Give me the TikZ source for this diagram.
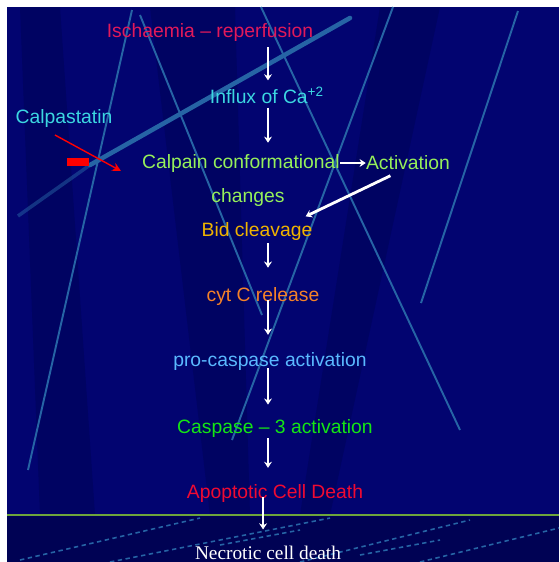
\documentclass[tikz,border=0pt]{standalone}
\usepackage{fontspec}
\setmainfont{Liberation Sans}
\newfontfamily\necfont{Liberation Serif}
\usetikzlibrary{arrows.meta}

\definecolor{bgblue}{RGB}{2,4,112}
\definecolor{lowblue}{RGB}{0,2,84}
\definecolor{shadeblue}{RGB}{0,3,98}
\definecolor{streakblue}{RGB}{38,100,165}
\definecolor{floorline}{RGB}{110,165,60}
\definecolor{ischcol}{RGB}{225,25,90}
\definecolor{cacol}{RGB}{60,215,225}
\definecolor{calpcol}{RGB}{150,240,90}
\definecolor{bidcol}{RGB}{240,180,0}
\definecolor{cytcol}{RGB}{245,130,40}
\definecolor{procol}{RGB}{90,185,255}
\definecolor{caspcol}{RGB}{20,230,20}
\definecolor{apopcol}{RGB}{240,10,50}

\begin{document}
\begin{tikzpicture}[x=0.02cm,y=-0.02cm,
  lbl/.style={inner sep=0pt,font=\fontsize{11}{13}\selectfont},
  flow/.style={white,line width=1.6pt,-{Stealth[length=3.5pt,width=4.5pt]}},
  streak/.style={streakblue,line width=1.1pt},
  floor/.style={streakblue,line width=.9pt,dash pattern=on 2.5pt off 2pt}]
\useasboundingbox (0,0) rectangle (559,562);
\clip (0,0) rectangle (559,562);
\fill[white] (0,0) rectangle (559,562);
\fill[bgblue] (7,7) rectangle (559,562);
\fill[shadeblue] (150,7) -- (235,7) -- (250,515) -- (210,515) -- cycle;
\fill[shadeblue] (380,7) -- (440,7) -- (330,515) -- (300,515) -- cycle;
\fill[shadeblue] (20,7) -- (60,7) -- (95,515) -- (40,515) -- cycle;

% background streaks
\draw[streak] (140,15) -- (262,315);
\draw[streak] (261,7) -- (460,430);
\draw[streak] (393,7) -- (232,440);
\draw[streak] (518,11) -- (421,303);
\draw[streak] (132,10) -- (28,470);
\draw[streakblue,line width=2.6pt,line cap=round] (350,18) -- (90,165);
\draw[streakblue,line width=2pt,opacity=.5] (90,165) -- (18,216);

\fill[lowblue] (7,515) rectangle (559,562);
\draw[floor] (20,560) -- (200,518);
\draw[floor] (110,562) -- (330,518);
\draw[floor] (300,562) -- (470,520);
\draw[floor] (420,562) -- (559,528);
\draw[floor] (220,545) -- (300,530);
\draw[floor] (360,555) -- (440,540);
\draw[floorline,line width=1.3pt] (7,515) -- (559,515);

\coordinate (axis) at (268,0);
\node[lbl,text=ischcol] (isch) at (210,32) {Ischaemia -- reperfusion};
\node[lbl,text=cacol] (influx) at (267,95) {Influx of Ca\textsuperscript{+2}};
\node[lbl,text=cacol] (calpast) at (64,118) {Calpastatin};
\node[lbl,text=calpcol] (calpain) at (241,163) {Calpain conformational};
\node[lbl,text=calpcol] (changes) at (248,197) {changes};
\node[lbl,text=calpcol] (act) at (408,163) {Activation};
\node[lbl,text=bidcol] (bid) at (257,231) {Bid cleavage};
\node[lbl,text=cytcol] (cyt) at (263,296) {cyt C release};
\node[lbl,text=procol] (procasp) at (270,361) {pro-caspase activation};
\node[lbl,text=caspcol] (casp3) at (275,428) {Caspase -- 3 activation};
\node[lbl,text=apopcol] (apop) at (275,493) {Apoptotic Cell Death};
\node[inner sep=0pt,anchor=base,text=white,font=\necfont\fontsize{11}{13}\selectfont] (necro) at (268,559) {Necrotic cell death};

\coordinate (inh) at (55,135);
\coordinate (inhtip) at (121,171);
\fill[red] (67,158) rectangle (89,166);
\draw[red,line width=.8pt,-{Stealth[length=5pt,width=5pt]}] (inh) -- (inhtip);

\draw[flow,shorten <=3.4pt,shorten >=3.4pt] (isch.south -| axis) -- (influx.north -| axis);
\draw[flow,shorten <=2.3pt,shorten >=6.2pt] (influx.south -| axis) -- (calpain.north -| axis);
\draw[flow] (calpain.east) -- (act.west);
\draw[flow] ([xshift=-10pt,yshift=-3pt]act.south) -- ([xshift=-4pt,yshift=3pt]bid.north east);
\draw[flow,shorten <=1.7pt,shorten >=10.8pt] (bid.south -| axis) -- (cyt.north -| axis);
\draw[flow,shorten <=-2.8pt,shorten >=9.6pt] (cyt.south -| axis) -- (procasp.north -| axis);
\draw[flow,shorten <=-1.2pt,shorten >=8pt] (procasp.south -| axis) -- (casp3.north -| axis);
\draw[flow,shorten <=.6pt,shorten >=9pt] (casp3.south -| axis) -- (apop.north -| axis);
\draw[flow,shorten <=-2.8pt,shorten >=9pt] ([xshift=-2.8pt]apop.south -| axis) -- ([xshift=-2.8pt]necro.north -| axis);
\end{tikzpicture}
\end{document}
